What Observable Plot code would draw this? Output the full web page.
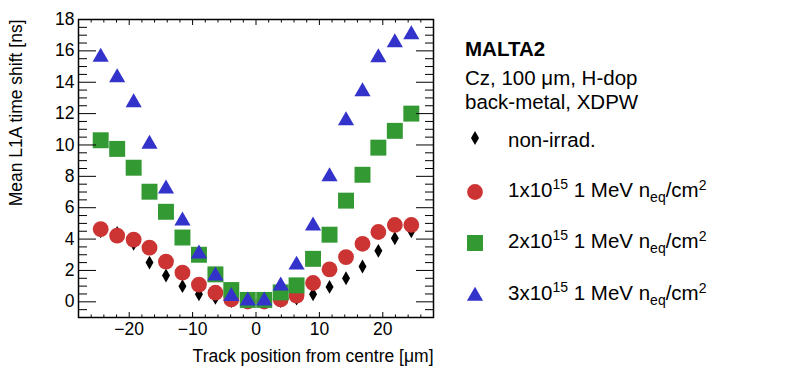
<!DOCTYPE html>
<html><head><meta charset="utf-8">
<script src="https://cdn.jsdelivr.net/npm/d3@7"></script>
<script src="https://cdn.jsdelivr.net/npm/@observablehq/plot@0.6"></script>
<style>
body{margin:0;background:#fff;}
#chart{position:relative;width:788px;height:377px;}
</style>
</head><body><div id="chart"></div>
<script>
// Track positions (µm)
const positions = [-24.5, -21.9, -19.3, -16.8, -14.2, -11.6, -9.0, -6.4, -3.9, -1.3, 1.3, 3.9, 6.4, 9.0, 11.6, 14.2, 16.8, 19.3, 21.9, 24.5];
// Mean L1A time shift [ns]
const nonIrrad = [4.5, 4.4, 3.7, 2.5, 1.68, 1.0, 0.48, 0.25, 0.05, 0.0, 0.0, 0.05, 0.2, 0.48, 0.95, 1.5, 2.25, 3.25, 4.05, 4.5];
const fluence1 = [4.63, 4.22, 3.96, 3.45, 2.56, 1.86, 1.1, 0.58, 0.15, 0.02, 0.02, 0.15, 0.4, 1.2, 2.07, 2.85, 3.7, 4.45, 4.9, 4.9];
const fluence2 = [10.3, 9.75, 8.55, 7.02, 5.74, 4.1, 3.0, 1.75, 0.75, 0.12, 0.12, 0.6, 1.05, 2.74, 4.28, 6.45, 8.1, 9.83, 10.9, 12.0];
const fluence3 = [15.6, 14.3, 12.7, 10.05, 7.2, 5.17, 3.06, 1.66, 0.35, 0.06, 0.06, 1.02, 2.35, 4.85, 7.98, 11.55, 13.4, 15.57, 16.53, 17.04];

const seriesKeys = ["non-irrad.", "1e15", "2e15", "3e15"];
const seriesColors = ["#000000", "#cc3333", "#339933", "#3333cc"];
const seriesSymbols = ["diamond", "circle", "square", "triangle"];
const seriesR = [4.2, 7.9, 9.0, 6.0];

const xMajorTicks = [-20, -10, 0, 10, 20];
const xMinorTicks = [-28, -26, -24, -22, -18, -16, -14, -12, -8, -6, -4, -2, 2, 4, 6, 8, 12, 14, 16, 18, 22, 24, 26, 28];
const yMajorTicks = [0, 2, 4, 6, 8, 10, 12, 14, 16, 18];
const yMinorTicks = [-1, -0.5, 0.5, 1, 1.5, 2.5, 3, 3.5, 4.5, 5, 5.5, 6.5, 7, 7.5, 8.5, 9, 9.5, 10.5, 11, 11.5, 12.5, 13, 13.5, 14.5, 15, 15.5, 16.5, 17, 17.5];

const xTitle = "Track position from centre [\u03bcm]";
const yTitle = "Mean L1A time shift [ns]";

const seriesValues = [nonIrrad, fluence1, fluence2, fluence3];
const rows = seriesValues.flatMap((vals, s) => vals.map((v, i) => ({series: s, x: positions[i], y: v})));

const FONT = "'Liberation Sans', Arial, Helvetica, sans-serif";
const fmtX = d => d < 0 ? "\u2212" + (-d) : String(d);

const dotMarks = seriesKeys.map((k, s) => Plot.dot(rows.filter(d => d.series === s), {
  x: "x", y: "y", symbol: () => seriesSymbols[s], r: seriesR[s], fill: seriesColors[s], stroke: "none"
}));

const plot = Plot.plot({
  width: 788, height: 377,
  marginLeft: 78, marginRight: 355, marginTop: 19, marginBottom: 60,
  x: {domain: [-28, 28]},
  y: {domain: [-1, 18]},
  symbol: {type: "identity"},
  style: {fontFamily: FONT, fontSize: "17px", color: "black", background: "white"},
  marks: [
    ...dotMarks,
    Plot.axisY(yMajorTicks, {anchor: "left", tickSize: 0, tickPadding: 4, label: null, fontSize: 17.5}),
    Plot.axisY(yMajorTicks, {anchor: "left", tickSize: -18, fill: "none", label: null}),
    Plot.axisY(yMinorTicks, {anchor: "left", tickSize: -9, fill: "none", label: null}),
    Plot.axisY(yMajorTicks, {anchor: "right", tickSize: -18, fill: "none", label: null}),
    Plot.axisY(yMinorTicks, {anchor: "right", tickSize: -9, fill: "none", label: null}),
    Plot.axisX(xMajorTicks, {anchor: "bottom", tickSize: 0, tickPadding: 5, label: null, tickFormat: fmtX, fontSize: 17.5}),
    Plot.axisX(xMajorTicks, {anchor: "bottom", tickSize: -5, fill: "none", label: null}),
    Plot.axisX(xMinorTicks, {anchor: "bottom", tickSize: -2.5, fill: "none", label: null}),
    Plot.axisX(xMajorTicks, {anchor: "top", tickSize: -5, fill: "none", label: null}),
    Plot.axisX(xMinorTicks, {anchor: "top", tickSize: -2.5, fill: "none", label: null}),
    Plot.frame({stroke: "black", strokeWidth: 1.5}),
    Plot.text([yTitle], {frameAnchor: "top-left", rotate: -90, textAnchor: "end", dx: -69, dy: 0, fontSize: 17.5}),
    Plot.text([xTitle], {frameAnchor: "bottom-right", textAnchor: "end", dy: 44, fontSize: 17.5})
  ]
});

// Legend drawn into the same SVG
const svg = d3.select(plot);
const lg = svg.append("g").attr("font-family", FONT).attr("font-size", 20.5).attr("fill", "black").attr("text-anchor", "start");
lg.append("text").attr("x", 465).attr("y", 56).attr("font-weight", "bold").text("MALTA2");
lg.append("text").attr("x", 465).attr("y", 85).text("Cz, 100 \u03bcm, H-dop");
lg.append("text").attr("x", 465).attr("y", 109).text("back-metal, XDPW");

const legendSymbols = [d3.symbolDiamond, d3.symbolCircle, d3.symbolSquare, d3.symbolTriangle];
const legendMarkerY = [138, 192, 243, 296];
const legendBaseline = [147, 197, 248, 300];
const legendFluence = [null, "1", "2", "3"];
seriesKeys.forEach((k, s) => {
  const size = Math.PI * seriesR[s] * seriesR[s];
  lg.append("path")
    .attr("d", d3.symbol(legendSymbols[s], size)())
    .attr("transform", `translate(475,${legendMarkerY[s]})`)
    .attr("fill", seriesColors[s]);
  const t = lg.append("text").attr("x", 508).attr("y", legendBaseline[s]);
  if (s === 0) { t.text("non-irrad."); return; }
  t.append("tspan").text(legendFluence[s] + "x10");
  t.append("tspan").attr("dy", -8).attr("font-size", 14).text("15");
  t.append("tspan").attr("dy", 8).text(" 1 MeV n");
  t.append("tspan").attr("dy", 5).attr("font-size", 14).text("eq");
  t.append("tspan").attr("dy", -5).text("/cm");
  t.append("tspan").attr("dy", -7).attr("font-size", 14).text("2");
});

document.getElementById("chart").appendChild(plot);
</script>
</body></html>
